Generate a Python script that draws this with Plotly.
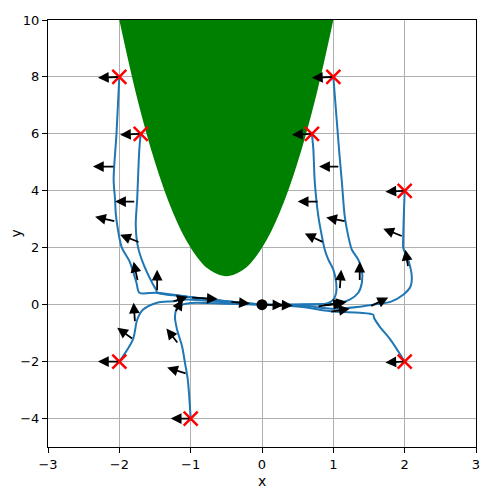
import plotly.graph_objects as go

# ------------------------------------------------------------------
# Data
# ------------------------------------------------------------------

# obstacle boundary (green region)
obstacle_x = [-2.0, -1.75, -1.5, -1.25, -1.0, -0.75, -0.5, -0.25, 0.0, 0.25, 0.5, 0.75, 1.0]
obstacle_y = [10.0, 7.25, 5.0, 3.25, 2.0, 1.25, 1.0, 1.25, 2.0, 3.25, 5.0, 7.25, 10.0]

# trajectories (start point first, all end at the origin)
traj_1_x = [-2.0, -2.04, -2.08, -2.06, -2.05, -2.03, -1.97, -1.85, -1.76, -1.72, -1.47, -1.05, -0.5, 0.0]
traj_1_y = [8.0, 6.0, 4.4, 3.7, 3.2, 2.8, 2.04, 1.48, 0.77, 0.42, 0.42, 0.28, 0.12, 0.0]

traj_2_x = [-1.7, -1.72, -1.75, -1.77, -1.74, -1.67, -1.54, -1.48, -1.47, -1.05, -0.5, 0.0]
traj_2_y = [6.0, 5.45, 3.7, 2.8, 2.04, 1.48, 0.77, 0.5, 0.42, 0.28, 0.12, 0.0]

traj_3_x = [-2.0, -1.81, -1.75, -1.67, -1.47, -1.25, -1.05, -0.5, 0.0]
traj_3_y = [-2.0, -1.23, -0.53, -0.18, 0.07, 0.12, 0.18, 0.08, 0.0]

traj_4_x = [-1.0, -1.04, -1.08, -1.12, -1.19, -1.22, -1.18, -1.0, -0.5, 0.0]
traj_4_y = [-4.0, -2.64, -2.04, -1.47, -0.88, -0.42, -0.07, 0.06, 0.03, 0.0]

traj_5_x = [1.0, 1.08, 1.12, 1.16, 1.21, 1.26, 1.35, 1.40, 1.40, 1.35, 1.23, 1.05, 0.5, 0.0]
traj_5_y = [8.0, 5.45, 4.3, 3.1, 2.4, 1.93, 1.58, 1.23, 0.77, 0.42, 0.18, 0.04, 0.01, 0.0]

traj_6_x = [0.7, 0.72, 0.74, 0.79, 0.84, 0.88, 0.93, 1.0, 1.04, 1.04, 1.0, 0.91, 0.5, 0.0]
traj_6_y = [6.0, 5.45, 4.3, 3.1, 2.4, 1.93, 1.58, 1.23, 0.77, 0.42, 0.18, 0.04, 0.0, 0.0]

traj_7_x = [2.0, 1.98, 1.98, 2.05, 2.1, 2.08, 1.98, 1.8, 1.56, 1.37, 1.0, 0.58, 0.0]
traj_7_y = [4.0, 2.4, 2.0, 1.58, 0.98, 0.63, 0.35, 0.1, 0.0, -0.07, -0.14, -0.04, 0.0]

traj_8_x = [2.0, 1.8, 1.65, 1.57, 1.56, 1.37, 1.0, 0.53, 0.0]
traj_8_y = [-2.0, -1.23, -0.77, -0.46, -0.35, -0.28, -0.24, -0.07, 0.0]

trajectories = [
    (traj_1_x, traj_1_y), (traj_2_x, traj_2_y), (traj_3_x, traj_3_y), (traj_4_x, traj_4_y),
    (traj_5_x, traj_5_y), (traj_6_x, traj_6_y), (traj_7_x, traj_7_y), (traj_8_x, traj_8_y),
]

start_x = [-2.0, -1.7, -2.0, -1.0, 1.0, 0.7, 2.0, 2.0]
start_y = [8.0, 6.0, -2.0, -4.0, 8.0, 6.0, 4.0, -2.0]

# control arrows (tail -> head)
arrow_tail_x = [-2.0, -1.7, -2.06, -1.77, -2.05, -1.71, -1.74, -1.47, -1.78, -1.80, -2.0,
                -1.22, -1.17, -1.05, -1.0, -1.26, -1.0, -0.45, 0.02, 0.15,
                1.0, 0.7, 1.09, 0.8, 1.18, 0.87, 1.09, 1.37, 2.0, 1.98, 2.05, 1.51, 2.0,
                0.77, 0.85, 0.95]
arrow_tail_y = [8.0, 6.0, 4.85, 3.62, 2.92, 2.18, 0.81, 0.46, -0.63, -1.23, -2.0,
                -0.28, -1.38, -2.43, -4.0, 0.1, 0.25, 0.1, 0.0, -0.01,
                8.0, 6.0, 4.85, 3.62, 2.92, 2.18, 0.53, 0.81, 4.0, 2.39, 1.3, -0.07, -2.0,
                -0.07, -0.03, -0.25]
arrow_head_x = [-2.30, -1.99, -2.37, -2.06, -2.34, -1.99, -1.80, -1.47, -1.80, -2.03, -2.30,
                -1.11, -1.34, -1.33, -1.28, -1.04, -0.62, -0.17, 0.30, 0.43,
                0.70, 0.42, 0.80, 0.50, 0.90, 0.60, 1.11, 1.37, 1.73, 1.70, 2.01, 1.77, 1.73,
                1.19, 1.15, 1.23]
arrow_head_y = [7.97, 5.97, 4.85, 3.62, 3.09, 2.46, 1.51, 1.23, 0.07, -0.81, -2.0,
                0.18, -0.84, -2.21, -4.0, 0.28, 0.2, 0.04, -0.02, -0.03,
                7.97, 5.97, 4.85, 3.62, 3.06, 2.5, 1.23, 1.51, 3.97, 2.67, 1.93, 0.25, -2.03,
                0.1, 0.05, -0.14]

goal_x = [0.0]
goal_y = [0.0]

# ------------------------------------------------------------------
# Figure
# ------------------------------------------------------------------

fig = go.Figure()

fig.add_trace(
    go.Scatter(
        x=obstacle_x, y=obstacle_y,
        mode="lines", line=dict(color="green", width=0, shape="spline"),
        fill="toself", fillcolor="green",
        hoverinfo="skip",
    )
)

for tx, ty in trajectories:
    fig.add_trace(
        go.Scatter(
            x=tx, y=ty, mode="lines",
            line=dict(color="#1f77b4", width=2, shape="spline", smoothing=0.8),
        )
    )

for hx, hy, tx, ty in zip(arrow_head_x, arrow_head_y, arrow_tail_x, arrow_tail_y):
    fig.add_annotation(
        x=hx, y=hy, ax=tx, ay=ty,
        xref="x", yref="y", axref="x", ayref="y",
        showarrow=True, arrowhead=2, arrowsize=1.2, arrowwidth=1.8,
        arrowcolor="black", text="",
    )

fig.add_trace(
    go.Scatter(
        x=start_x, y=start_y, mode="markers",
        marker=dict(symbol="x-thin", size=14, line=dict(color="red", width=2.5)),
    )
)

fig.add_trace(
    go.Scatter(
        x=goal_x, y=goal_y, mode="markers",
        marker=dict(symbol="circle", size=11, color="black"),
    )
)

axis_style = dict(
    showline=True, linecolor="black", linewidth=1, mirror=True,
    showgrid=True, gridcolor="#b0b0b0", gridwidth=1,
    ticks="outside", ticklen=5, tickcolor="black",
    zeroline=False, automargin=False,
    tickfont=dict(family="DejaVu Sans", size=13, color="black"),
)

# page body adds an 8px offset, so the figure is drawn 8px smaller
fig.update_layout(
    width=481, height=483,
    margin=dict(l=40, r=13, t=12, b=44),
    plot_bgcolor="white", paper_bgcolor="white",
    showlegend=False,
    font=dict(family="DejaVu Sans", size=13, color="black"),
    xaxis=dict(range=[-3, 3], dtick=1, **axis_style),
    yaxis=dict(range=[-5, 10], dtick=2, tick0=0, **axis_style),
)

# axis labels placed like matplotlib's
fig.add_annotation(
    text="x", xref="paper", yref="paper", x=0.5, y=0,
    xanchor="center", yanchor="middle", yshift=-34,
    showarrow=False, font=dict(family="DejaVu Sans", size=14, color="black"),
)
fig.add_annotation(
    text="y", xref="paper", yref="paper", x=0, y=0.5,
    xanchor="center", yanchor="middle", xshift=-33, textangle=-90,
    showarrow=False, font=dict(family="DejaVu Sans", size=14, color="black"),
)

fig.write_html("out.html")
